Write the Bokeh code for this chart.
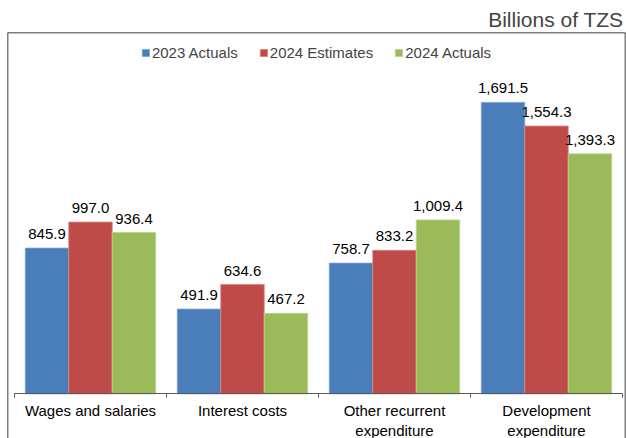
from bokeh.plotting import figure
from bokeh.models import (ColumnDataSource, Range1d, FixedTicker, Span, Legend, LegendItem, Label)
from bokeh.transform import dodge
from bokeh.core.properties import value
from bokeh.embed import file_html
from bokeh.resources import INLINE

FONT = "Liberation Sans"

categories = ["Wages and salaries", "Interest costs", "Other recurrent expenditure", "Development expenditure"]
tick_labels = ["Wages and salaries", "Interest costs", "Other recurrent\nexpenditure", "Development\nexpenditure"]
actuals_2023 = [845.9, 491.9, 758.7, 1691.5]
estimates_2024 = [997.0, 634.6, 833.2, 1554.3]
actuals_2024 = [936.4, 467.2, 1009.4, 1393.3]

series = [
    ("2023 Actuals", "a23", actuals_2023, "#4a7ebb", "#7fa3d1", -0.286),
    ("2024 Estimates", "e24", estimates_2024, "#be4b48", "#d88583", 0.0),
    ("2024 Actuals", "a24", actuals_2024, "#9bbb59", "#bdd48f", 0.286),
]

pos = [i + 0.5 for i in range(len(categories))]  # category centres
src = ColumnDataSource(dict(
    x=pos,
    a23=actuals_2023, e24=estimates_2024, a24=actuals_2024,
    a23_lab=[f"{v:,.1f}" for v in actuals_2023],
    e24_lab=[f"{v:,.1f}" for v in estimates_2024],
    a24_lab=[f"{v:,.1f}" for v in actuals_2024],
))

p = figure(width=626, height=438, output_backend="svg", toolbar_location=None,
           x_range=Range1d(-0.046, 4.0197), y_range=Range1d(-259, 2097),
           min_border_left=7, min_border_right=1, min_border_bottom=0, min_border_top=32)
p.background_fill_color = "white"
p.border_fill_color = "white"
p.outline_line_color = None
p.grid.visible = False
p.yaxis.visible = False

p.title.text = "Billions of TZS"
p.title.align = "right"
p.title.text_font = FONT
p.title.text_font_size = "21px"
p.title.text_font_style = "normal"
p.title.standoff = 4
p.title.offset = 2

# cut-off heading at the very top
p.add_layout(Label(x=0.882, y=2265, text="December", text_font=FONT, text_font_size="21px",
                   text_font_style="bold", text_baseline="alphabetic", text_color="black"))

items = []
for label, key, vals, col, edge, off in series:
    r = p.vbar(x=dodge("x", off), top=key, width=0.286, bottom=0, source=src,
               fill_color=col, line_color=edge, line_width=0.8)
    p.text(x=dodge("x", off), y=key, text=key + "_lab", source=src,
           text_align="center", text_baseline="alphabetic", y_offset=-14,
           text_font=value(FONT), text_font_size="15px", text_color="black")
    items.append(LegendItem(label=label, renderers=[r]))

legend = Legend(items=items, orientation="horizontal", location="top_center",
                glyph_width=9, glyph_height=9, label_standoff=2, spacing=21,
                label_text_font=FONT, label_text_font_size="15px",
                margin=12, padding=4, border_line_color=None, background_fill_alpha=0)
p.add_layout(legend, "center")

ax = p.xaxis[0]
ax.fixed_location = 0
ax.bounds = (0, 4)
ax.ticker = FixedTicker(ticks=pos, minor_ticks=[0, 1, 2, 3, 4])
ax.major_label_overrides = {pos[i]: tick_labels[i] for i in range(len(pos))}
ax.major_tick_out = 0
ax.major_tick_in = 0
ax.minor_tick_out = 4
ax.minor_tick_in = 0
ax.minor_tick_line_color = "#595959"
ax.axis_line_color = "#595959"
ax.axis_line_width = 1
ax.major_label_standoff = 4
ax.major_label_text_font = FONT
ax.major_label_text_font_size = "15px"
ax.major_label_text_color = "black"

# chart box (left, top, right edges)
for loc, dim in [(p.x_range.start, "height"), (p.x_range.end, "height"), (p.y_range.end, "width")]:
    p.add_layout(Span(location=loc, dimension=dim, line_color="black", line_width=1.5))

open("out.html", "w").write(file_html(p, INLINE))
